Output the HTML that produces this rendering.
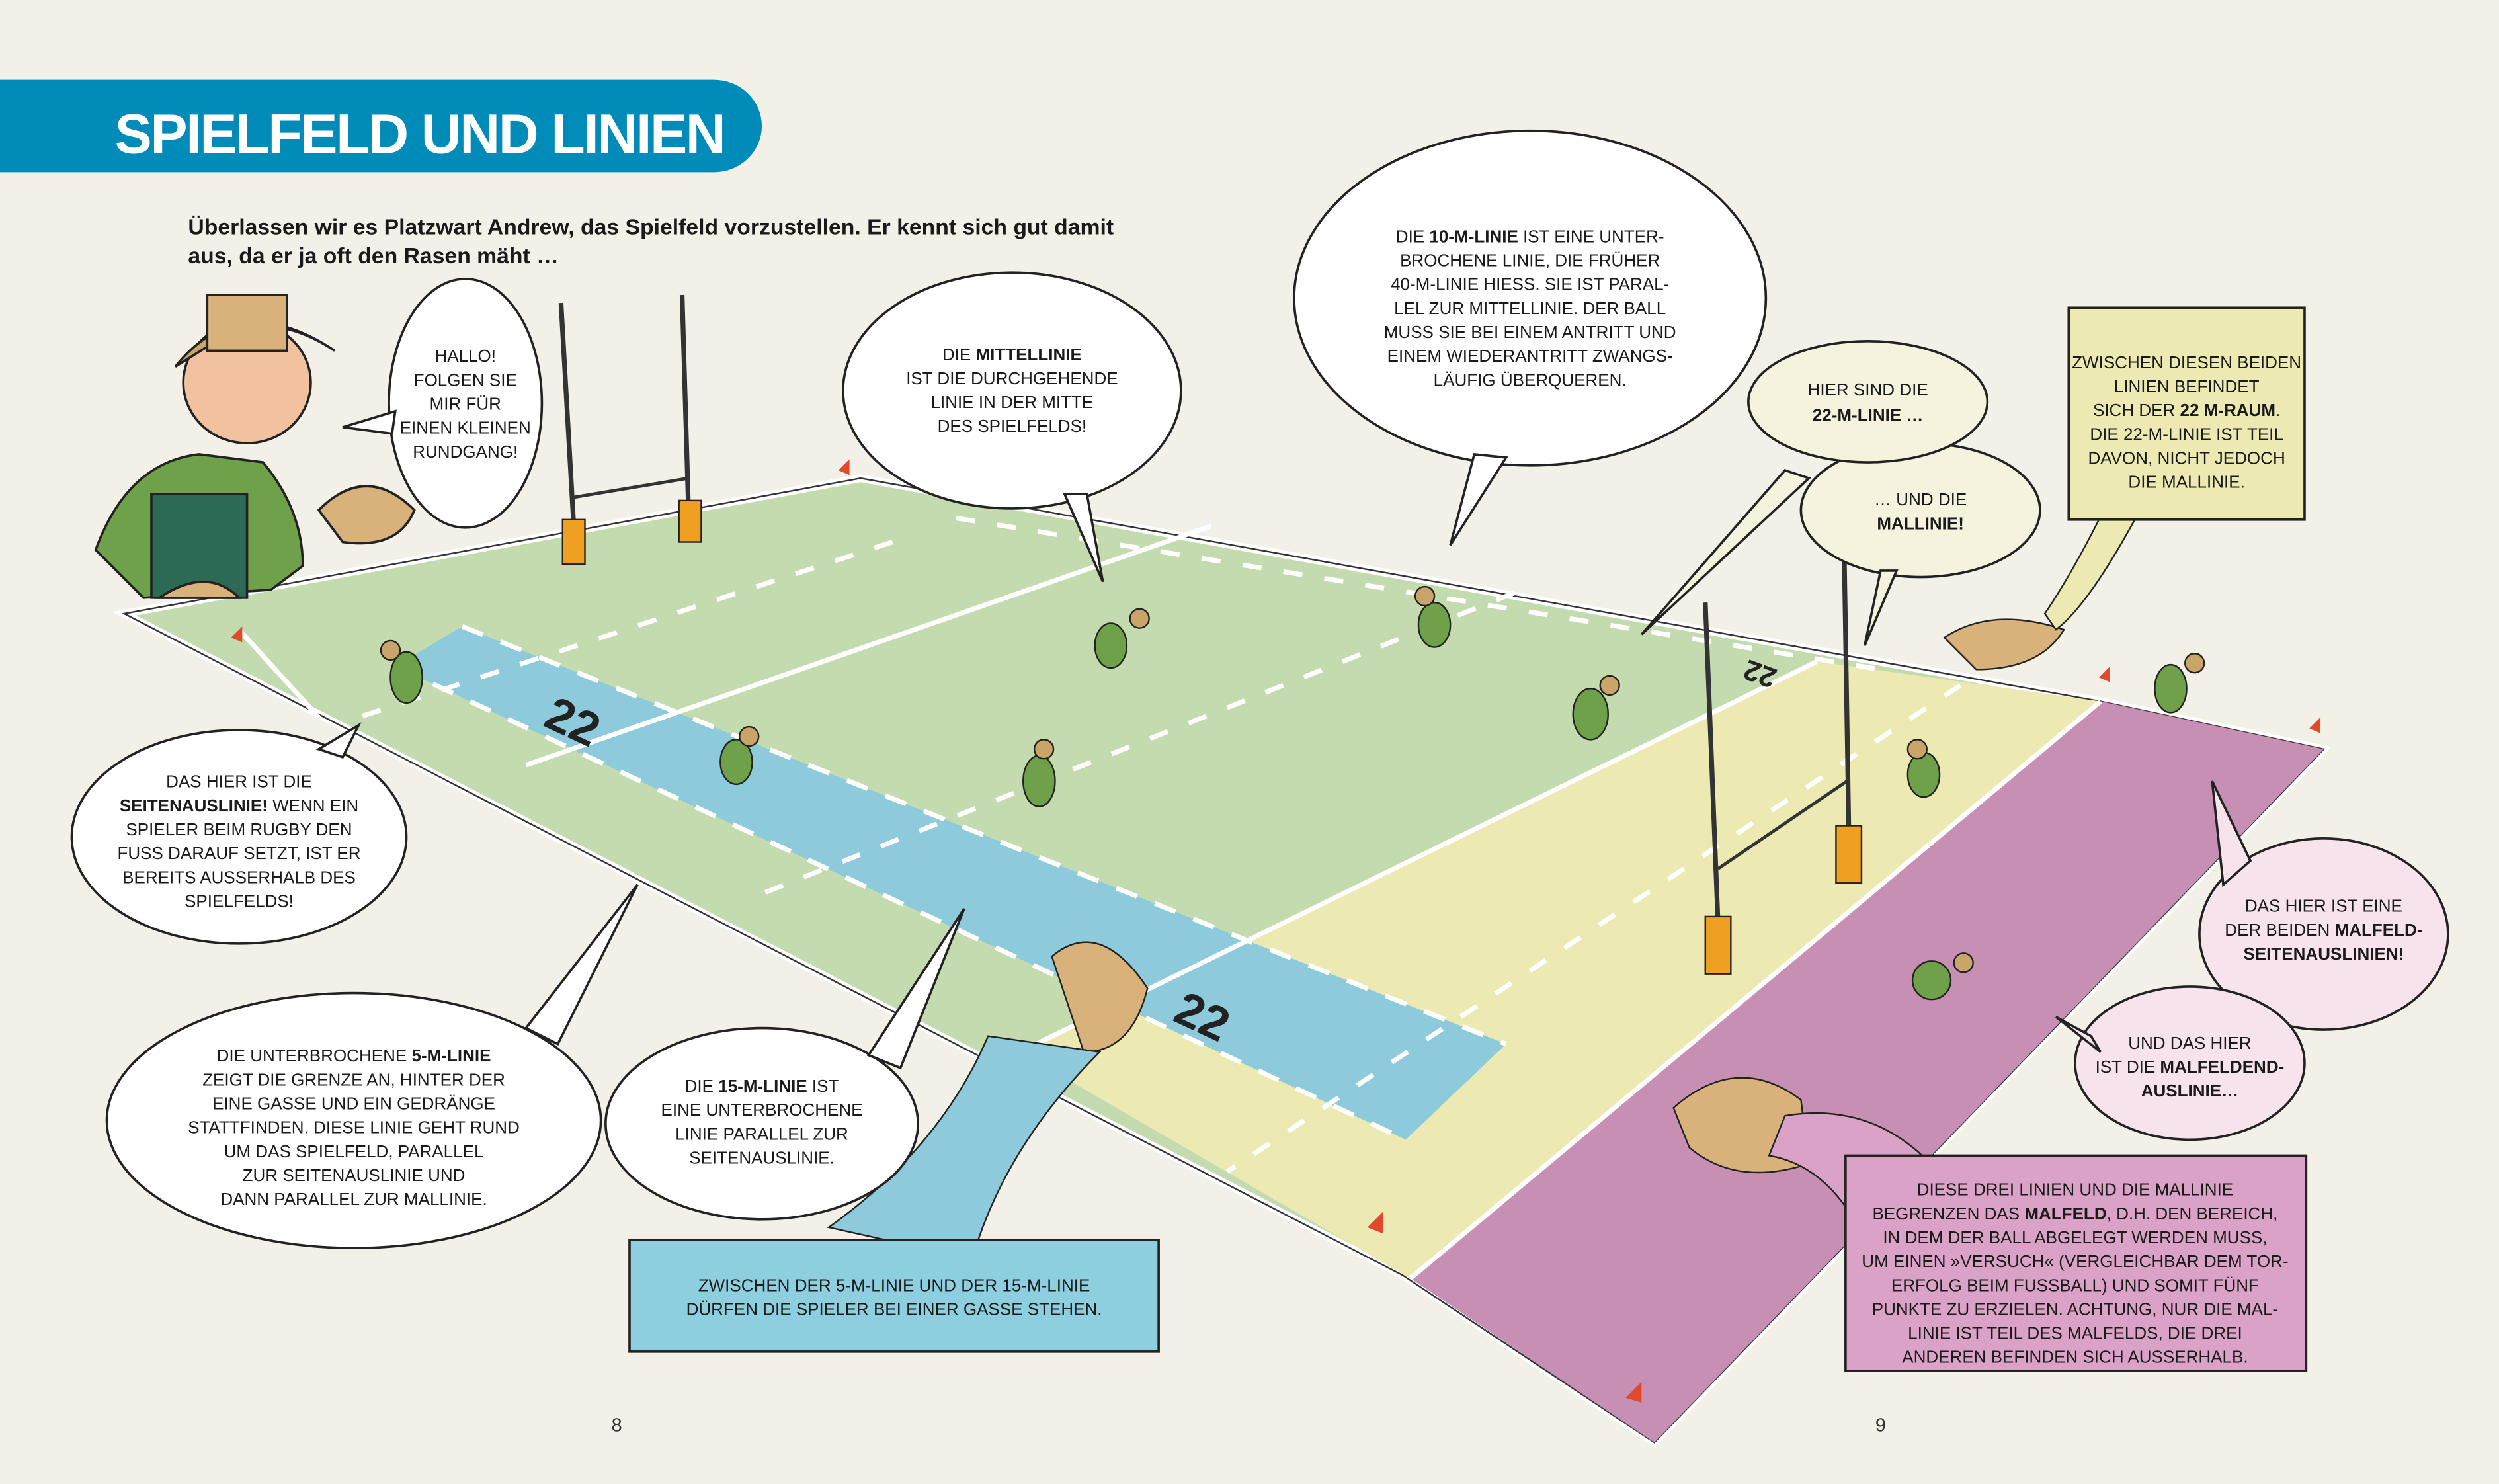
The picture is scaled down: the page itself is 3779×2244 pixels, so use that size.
<!DOCTYPE html>
<html><head><meta charset="utf-8">
<style>
html,body{margin:0;padding:0;background:#f3f0e8;}
svg{display:block}
.b{font-family:"Liberation Sans",sans-serif;font-size:10.8px;fill:#1a1a1a;text-anchor:middle}
.b tspan.k{font-weight:bold}
</style></head><body>
<svg width="3779" height="2244" viewBox="0 0 1568 931" xmlns="http://www.w3.org/2000/svg">
<rect width="1568" height="931" fill="#f3f0e8"/>
<!-- title -->
<path d="M0 50 H448 A30 29 0 0 1 448 108 H0 Z" fill="#008bb8"/>
<text x="72" y="96" font-family="Liberation Sans" font-weight="bold" font-size="35" fill="#fff" letter-spacing="-1">SPIELFELD UND LINIEN</text>
<text x="118" y="147" font-family="Liberation Sans,sans-serif" font-weight="bold" font-size="14" fill="#1a1a1a">Überlassen wir es Platzwart Andrew, das Spielfeld vorzustellen. Er kennt sich gut damit</text>
<text x="118" y="165" font-family="Liberation Sans,sans-serif" font-weight="bold" font-size="14" fill="#1a1a1a">aus, da er ja oft den Rasen mäht …</text>

<!-- field -->
<polygon points="78,385 540,300 1318,440 1458,470 1038,905 880,800" fill="#c4dbb0" stroke="#fff" stroke-width="5"/>
<polygon points="78,385 540,300 1318,440 1458,470 1038,905 880,800" fill="none" stroke="#333" stroke-width="1"/>
<polygon points="1140,415 1318,440 885,802 640,660" fill="#ede9b2"/>
<polygon points="1318,440 1458,470 1038,905 885,802" fill="#c78fb4"/>
<polygon points="290,393 945,655 882,715 248,418" fill="#8ccadc"/>
<g stroke="#fff" stroke-width="3" fill="none">
<line x1="1318" y1="440" x2="885" y2="802"/>
<line x1="1140" y1="415" x2="640" y2="660"/>
<line x1="760" y1="330" x2="330" y2="480"/>
<line x1="290" y1="393" x2="945" y2="655" stroke-dasharray="14,12"/>
<line x1="248" y1="418" x2="882" y2="715" stroke-dasharray="14,12"/>
<line x1="600" y1="325" x2="1180" y2="420" stroke-dasharray="12,14"/>
<line x1="950" y1="372" x2="480" y2="560" stroke-dasharray="12,14"/>
<line x1="560" y1="340" x2="225" y2="450" stroke-dasharray="12,14"/>
<line x1="1230" y1="430" x2="770" y2="735" stroke-dasharray="12,14"/>
<line x1="150" y1="395" x2="200" y2="450"/>
</g>
<text x="340" y="455" font-family="Liberation Sans" font-weight="bold" font-size="30" fill="#222" transform="rotate(25 340 455)">22</text>
<text x="735" y="640" font-family="Liberation Sans" font-weight="bold" font-size="30" fill="#222" transform="rotate(25 735 640)">22</text>
<text x="1085" y="425" font-family="Liberation Sans" font-weight="bold" font-size="18" fill="#222" transform="rotate(200 1100 420)">22</text>

<!-- goal posts -->
<g stroke="#333" stroke-width="3">
<line x1="352" y1="190" x2="360" y2="330"/><line x1="428" y1="185" x2="432" y2="320"/>
<line x1="360" y1="312" x2="432" y2="300" stroke-width="2"/>
<line x1="1070" y1="378" x2="1078" y2="580"/><line x1="1157" y1="338" x2="1160" y2="520"/>
<line x1="1078" y1="545" x2="1159" y2="490" stroke-width="2"/>
</g>
<g fill="#f0a020" stroke="#222">
<rect x="353" y="326" width="14" height="28"/><rect x="426" y="314" width="14" height="26"/>
<rect x="1070" y="575" width="16" height="36"/><rect x="1152" y="518" width="16" height="36"/>
</g>
<!-- flags -->
<g fill="#e04a2a"><polygon points="152,393 145,400 152,403"/><polygon points="533,288 526,295 533,298"/><polygon points="598,293 591,300 598,303"/><polygon points="1324,418 1317,425 1324,428"/><polygon points="1456,450 1449,457 1456,460"/><polygon points="868,760 858,770 868,774"/><polygon points="1030,867 1020,877 1030,880"/></g>

<!-- players (simple) -->
<g fill="#6fa04a" stroke="#222" stroke-width="1">
<ellipse cx="255" cy="425" rx="10" ry="16"/><ellipse cx="462" cy="478" rx="10" ry="14"/><ellipse cx="697" cy="405" rx="10" ry="14"/>
<ellipse cx="652" cy="490" rx="10" ry="16"/><ellipse cx="900" cy="392" rx="10" ry="14"/><ellipse cx="998" cy="448" rx="11" ry="16"/>
<ellipse cx="1207" cy="486" rx="10" ry="14"/><ellipse cx="1362" cy="432" rx="10" ry="15"/><ellipse cx="1212" cy="615" rx="12" ry="12"/>
</g>
<g fill="#c9a56a" stroke="#222" stroke-width="1">
<circle cx="245" cy="408" r="6"/><circle cx="470" cy="462" r="6"/><circle cx="715" cy="388" r="6"/><circle cx="655" cy="470" r="6"/>
<circle cx="894" cy="374" r="6"/><circle cx="1010" cy="430" r="6"/><circle cx="1203" cy="470" r="6"/><circle cx="1377" cy="416" r="6"/><circle cx="1232" cy="604" r="6"/>
</g>
<!-- Andrew -->
<g stroke="#222" stroke-width="1.5">
<path d="M60 345 Q80 290 125 285 L165 290 Q190 320 190 355 L170 370 L90 375 Z" fill="#6fa04a"/>
<rect x="95" y="310" width="60" height="65" fill="#2d6a55"/>
<ellipse cx="155" cy="240" rx="40" ry="38" fill="#f1c1a0"/>
<path d="M110 230 Q150 180 210 220 Q180 200 150 205 Z" fill="#c9a56a"/>
<rect x="130" y="185" width="50" height="35" fill="#d8b27a"/>
<path d="M200 320 Q230 290 260 320 Q250 345 215 340 Z" fill="#d8b27a"/>
<path d="M100 375 Q130 355 150 375 Z" fill="#d8b27a"/>
</g>
<!-- hands -->
<path d="M1220 400 Q1250 380 1295 395 Q1280 420 1240 420 Z" fill="#d8b27a" stroke="#222"/>
<path d="M660 600 Q690 575 720 620 Q710 660 680 660 Z" fill="#d8b27a" stroke="#222"/>
<path d="M1050 695 Q1090 660 1130 690 L1135 730 Q1090 745 1060 720 Z" fill="#d8b27a" stroke="#222"/>
<path d="M620 650 Q590 720 520 770 L610 790 Q630 720 690 660 Z" fill="#8ccadc" stroke="#222"/>
<path d="M1120 700 Q1180 690 1220 740 L1160 760 Q1140 730 1110 725 Z" fill="#d9a2c6" stroke="#222"/>
<path d="M1283 385 Q1300 360 1320 320 L1340 325 Q1310 380 1290 395 Z" fill="#ede9b2" stroke="#222"/>

<!-- bubbles -->
<g stroke="#222" stroke-width="1.5">
<ellipse cx="292" cy="253" rx="48" ry="78" fill="#fff"/>
<path d="M248 258 L215 268 L246 272 Z" fill="#fff"/>
<ellipse cx="635" cy="245" rx="106" ry="74" fill="#fff"/>
<path d="M668 310 L692 365 L682 310 Z" fill="#fff"/>
<ellipse cx="960" cy="187" rx="148" ry="105" fill="#fff"/>
<path d="M925 285 L910 342 L945 287 Z" fill="#fff"/>
<ellipse cx="150" cy="525" rx="105" ry="67" fill="#fff"/>
<path d="M200 470 L225 455 L215 475 Z" fill="#fff"/>
<ellipse cx="222" cy="703" rx="155" ry="80" fill="#fff"/>
<path d="M330 645 L400 555 L350 655 Z" fill="#fff"/>
<ellipse cx="478" cy="705" rx="98" ry="60" fill="#fff"/>
<path d="M545 662 L605 570 L565 670 Z" fill="#fff"/>
<path d="M1120 295 L1030 398 L1135 300 Z" fill="#f5f3de"/>
<ellipse cx="1205" cy="320" rx="75" ry="42" fill="#f5f3de"/>
<path d="M1180 358 L1170 405 L1190 358 Z" fill="#f5f3de"/>
<ellipse cx="1172" cy="252" rx="75" ry="38" fill="#f5f3de"/>
<rect x="1298" y="193" width="148" height="133" fill="#ede9b2"/>
<ellipse cx="1458" cy="586" rx="78" ry="60" fill="#f7e3ec"/>
<path d="M1395 555 L1388 490 L1412 540 Z" fill="#f7e3ec"/>
<ellipse cx="1374" cy="667" rx="72" ry="48" fill="#f7e3ec"/>
<path d="M1312 650 L1290 638 L1318 660 Z" fill="#f7e3ec"/>
<rect x="395" y="778" width="332" height="70" fill="#8ecfdf"/>
<rect x="1158" y="725" width="289" height="135" fill="#d9a2c6"/>
</g>

<text class="b"><tspan x="292" y="227">HALLO!</tspan><tspan x="292" y="242">FOLGEN SIE</tspan><tspan x="292" y="257">MIR FÜR</tspan><tspan x="292" y="272">EINEN KLEINEN</tspan><tspan x="292" y="287">RUNDGANG!</tspan></text>
<text class="b"><tspan x="635" y="226">DIE <tspan class="k">MITTELLINIE</tspan></tspan><tspan x="635" y="241">IST DIE DURCHGEHENDE</tspan><tspan x="635" y="256">LINIE IN DER MITTE</tspan><tspan x="635" y="271">DES SPIELFELDS!</tspan></text>
<text class="b"><tspan x="960" y="152">DIE <tspan class="k">10-M-LINIE</tspan> IST EINE UNTER-</tspan><tspan x="960" y="167">BROCHENE LINIE, DIE FRÜHER</tspan><tspan x="960" y="182">40-M-LINIE HIESS. SIE IST PARAL-</tspan><tspan x="960" y="197">LEL ZUR MITTELLINIE. DER BALL</tspan><tspan x="960" y="212">MUSS SIE BEI EINEM ANTRITT UND</tspan><tspan x="960" y="227">EINEM WIEDERANTRITT ZWANGS-</tspan><tspan x="960" y="242">LÄUFIG ÜBERQUEREN.</tspan></text>
<text class="b"><tspan x="1172" y="248">HIER SIND DIE</tspan><tspan x="1172" y="264" class="k">22-M-LINIE …</tspan></text>
<text class="b"><tspan x="1205" y="317">… UND DIE</tspan><tspan x="1205" y="332" class="k">MALLINIE!</tspan></text>
<text class="b"><tspan x="1372" y="231">ZWISCHEN DIESEN BEIDEN</tspan><tspan x="1372" y="246">LINIEN BEFINDET</tspan><tspan x="1372" y="261">SICH DER <tspan class="k">22 M-RAUM</tspan>.</tspan><tspan x="1372" y="276">DIE 22-M-LINIE IST TEIL</tspan><tspan x="1372" y="291">DAVON, NICHT JEDOCH</tspan><tspan x="1372" y="306">DIE MALLINIE.</tspan></text>
<text class="b"><tspan x="150" y="494">DAS HIER IST DIE</tspan><tspan x="150" y="509" class="k">SEITENAUSLINIE!<tspan font-weight="normal"> WENN EIN</tspan></tspan><tspan x="150" y="524">SPIELER BEIM RUGBY DEN</tspan><tspan x="150" y="539">FUSS DARAUF SETZT, IST ER</tspan><tspan x="150" y="554">BEREITS AUSSERHALB DES</tspan><tspan x="150" y="569">SPIELFELDS!</tspan></text>
<text class="b"><tspan x="222" y="666">DIE UNTERBROCHENE <tspan class="k">5-M-LINIE</tspan></tspan><tspan x="222" y="681">ZEIGT DIE GRENZE AN, HINTER DER</tspan><tspan x="222" y="696">EINE GASSE UND EIN GEDRÄNGE</tspan><tspan x="222" y="711">STATTFINDEN. DIESE LINIE GEHT RUND</tspan><tspan x="222" y="726">UM DAS SPIELFELD, PARALLEL</tspan><tspan x="222" y="741">ZUR SEITENAUSLINIE UND</tspan><tspan x="222" y="756">DANN PARALLEL ZUR MALLINIE.</tspan></text>
<text class="b"><tspan x="478" y="685">DIE <tspan class="k">15-M-LINIE</tspan> IST</tspan><tspan x="478" y="700">EINE UNTERBROCHENE</tspan><tspan x="478" y="715">LINIE PARALLEL ZUR</tspan><tspan x="478" y="730">SEITENAUSLINIE.</tspan></text>
<text class="b"><tspan x="561" y="810">ZWISCHEN DER 5-M-LINIE UND DER 15-M-LINIE</tspan><tspan x="561" y="825">DÜRFEN DIE SPIELER BEI EINER GASSE STEHEN.</tspan></text>
<text class="b"><tspan x="1458" y="572">DAS HIER IST EINE</tspan><tspan x="1458" y="587">DER BEIDEN <tspan class="k">MALFELD-</tspan></tspan><tspan x="1458" y="602" class="k">SEITENAUSLINIEN!</tspan></text>
<text class="b"><tspan x="1374" y="658">UND DAS HIER</tspan><tspan x="1374" y="673">IST DIE <tspan class="k">MALFELDEND-</tspan></tspan><tspan x="1374" y="688" class="k">AUSLINIE…</tspan></text>
<text class="b"><tspan x="1302" y="750">DIESE DREI LINIEN UND DIE MALLINIE</tspan><tspan x="1302" y="765">BEGRENZEN DAS <tspan class="k">MALFELD</tspan>, D.H. DEN BEREICH,</tspan><tspan x="1302" y="780">IN DEM DER BALL ABGELEGT WERDEN MUSS,</tspan><tspan x="1302" y="795">UM EINEN »VERSUCH« (VERGLEICHBAR DEM TOR-</tspan><tspan x="1302" y="810">ERFOLG BEIM FUSSBALL) UND SOMIT FÜNF</tspan><tspan x="1302" y="825">PUNKTE ZU ERZIELEN. ACHTUNG, NUR DIE MAL-</tspan><tspan x="1302" y="840">LINIE IST TEIL DES MALFELDS, DIE DREI</tspan><tspan x="1302" y="855">ANDEREN BEFINDEN SICH AUSSERHALB.</tspan></text>

<text x="387" y="898" font-family="Liberation Sans" font-size="12" fill="#333" text-anchor="middle">8</text>
<text x="1180" y="898" font-family="Liberation Sans" font-size="12" fill="#333" text-anchor="middle">9</text>
</svg>
</body></html>
